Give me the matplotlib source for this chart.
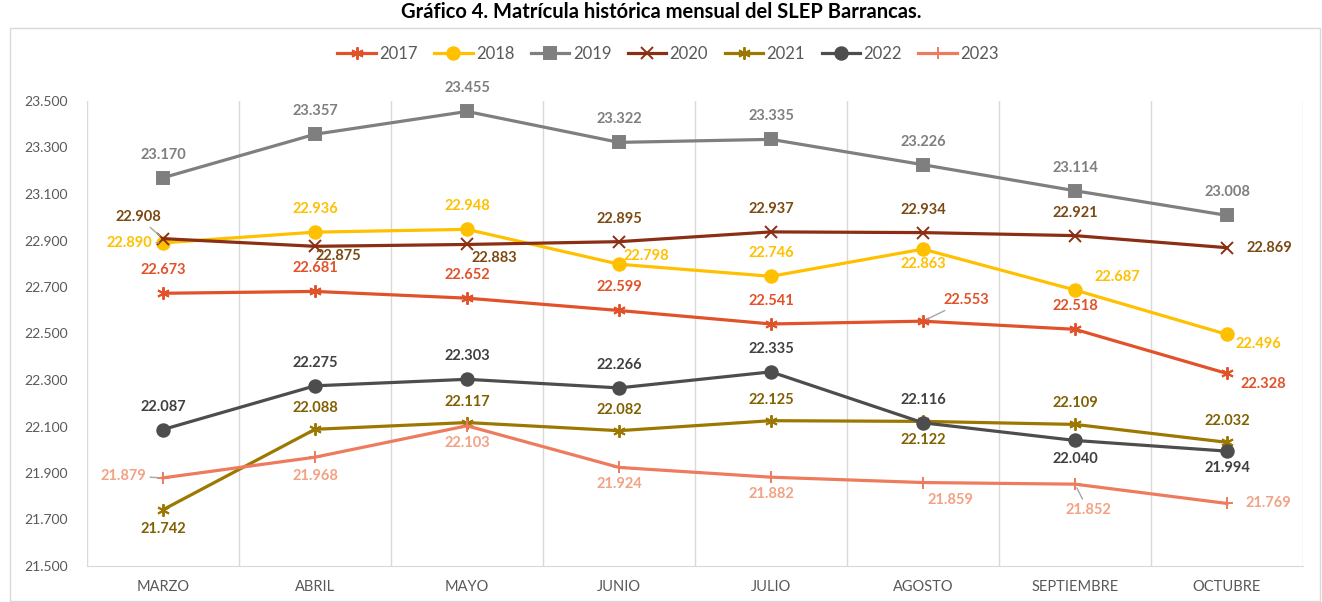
import matplotlib
matplotlib.use("Agg")
import matplotlib.pyplot as plt
from matplotlib.lines import Line2D
from matplotlib.patches import Rectangle

# ---------------------------------------------------------------------------
# DATA  (enrolment per month, one list per year)
# ---------------------------------------------------------------------------
months = ["MARZO", "ABRIL", "MAYO", "JUNIO", "JULIO", "AGOSTO",
          "SEPTIEMBRE", "OCTUBRE"]
years = ["2017", "2018", "2019", "2020", "2021", "2022", "2023"]

m2017 = [22673, 22681, 22652, 22599, 22541, 22553, 22518, 22328]
m2018 = [22890, 22936, 22948, 22798, 22746, 22863, 22687, 22496]
m2019 = [23170, 23357, 23455, 23322, 23335, 23226, 23114, 23008]
m2020 = [22908, 22875, 22883, 22895, 22937, 22934, 22921, 22869]
m2021 = [21742, 22088, 22117, 22082, 22125, 22122, 22109, 22032]
m2022 = [22087, 22275, 22303, 22266, 22335, 22116, 22040, 21994]
m2023 = [21879, 21968, 22103, 21924, 21882, 21859, 21852, 21769]
series = [m2017, m2018, m2019, m2020, m2021, m2022, m2023]

y_ticks = list(range(21500, 23501, 200))

# ---------------------------------------------------------------------------
# STYLE
# ---------------------------------------------------------------------------
plt.rcParams["font.family"] = ["Lato", "DejaVu Sans"]

ASTER = (6, 2, 0)
styles = {
    #        line colour, label colour, marker, size
    "2017": ("#E1522A", "#E1522A", ASTER, 9),
    "2018": ("#FFC000", "#FFC000", "o", 9),
    "2019": ("#7F7F7F", "#7F7F7F", "s", 8),
    "2020": ("#8B2F14", "#7B4A12", "x", 8),
    "2021": ("#9C7800", "#806000", ASTER, 9),
    "2022": ("#4D4D4D", "#404040", "o", 9),
    "2023": ("#EE7B5D", "#F3A183", "+", 9),
}

# label offsets in pixels (dx, dy) and whether a leader line is drawn
UP, DN = (0, 23), (0, -19)
offsets = {
    "2017": [UP, UP, UP, UP, UP, ((43, 21), True), UP, ((36, -11), False)],
    "2018": [((-34, 0), True), UP, UP, ((27, 8), False), UP, (0, -15),
             ((42, 13), False), ((31, -10), False)],
    "2019": [UP] * 8,
    "2020": [((-25, 22), True), ((23, -10), False), ((27, -14), False), UP,
             UP, UP, UP, ((42, 0), False)],
    "2021": [DN, (0, 21), (0, 21), (0, 21), (0, 21), DN, (0, 21), (0, 21)],
    "2022": [UP, UP, UP, UP, UP, UP, DN, (0, -17)],
    "2023": [((-40, 2), True), DN, (0, -17), (0, -17), (0, -17),
             ((27, -17), False), ((13, -26), True), ((41, 0), False)],
}


def fmt(v):
    return f"{v:,}".replace(",", ".")


# ---------------------------------------------------------------------------
# FIGURE
# ---------------------------------------------------------------------------
W, H = 1322, 602
fig = plt.figure(figsize=(W / 100, H / 100), dpi=100)
ax = fig.add_axes([87 / W, 1 - 566 / H, (1303 - 87) / W, (566 - 101) / H])

fig.patches.append(Rectangle((10 / W, 1 / H), (1320 - 10) / W, (573) / H,
                             transform=fig.transFigure, fill=False,
                             edgecolor="#d9d9d9", linewidth=1.0))

fig.text(0.5, 1 - 12 / H, "Gráfico 4. Matrícula histórica mensual del SLEP Barrancas.",
         ha="center", va="center", fontsize=14.5, fontweight="bold",
         color="black")

x = list(range(len(months)))
handles = []
for yr, vals in zip(years, series):
    lc, tc, mk, ms = styles[yr]
    ax.plot(x, vals, color=lc, linewidth=2.3, marker=mk, markersize=ms,
            markeredgewidth=1.4, markeredgecolor=lc, markerfacecolor=lc,
            zorder=3)
    handles.append(Line2D([], [], color=lc, linewidth=2.3, marker=mk,
                          markersize=ms, markeredgewidth=1.4,
                          markeredgecolor=lc, markerfacecolor=lc, label=yr))
    for i, v in enumerate(vals):
        off = offsets[yr][i]
        if isinstance(off[0], tuple):
            (dx, dy), lead = off
        else:
            (dx, dy), lead = off, False
        kw = {}
        if lead:
            kw["arrowprops"] = dict(arrowstyle="-", color="#a6a6a6", lw=1.0,
                                    shrinkA=1, shrinkB=3)
        ax.annotate(fmt(v), xy=(i, v), xytext=(dx, dy),
                    textcoords="offset pixels", ha="center", va="center",
                    fontsize=10.5, fontweight="bold", color=tc, zorder=4,
                    **kw)

# ---------------------------------------------------------------------------
# AXES
# ---------------------------------------------------------------------------
ax.set_xlim(-0.5, len(months) - 0.5)
ax.set_ylim(21500, 23500)
ax.set_yticks(y_ticks)
ax.set_yticklabels([fmt(t) for t in y_ticks])
ax.set_xticks(x)
ax.set_xticklabels(months)
ax.set_xticks([i - 0.5 for i in range(len(months) + 1)], minor=True)
ax.grid(True, which="minor", axis="x", color="#d9d9d9", linewidth=1.0)
ax.tick_params(axis="both", which="both", length=0)
ax.tick_params(axis="y", pad=14, labelsize=10, labelcolor="#595959")
ax.tick_params(axis="x", pad=10, labelsize=10.5, labelcolor="#595959")
for s in ["top", "right", "left"]:
    ax.spines[s].set_visible(False)
ax.spines["bottom"].set_color("#d9d9d9")

leg = fig.legend(handles=handles, loc="center", bbox_to_anchor=(668 / W, 1 - 54 / H),
                 ncol=7, frameon=False, fontsize=12, handlelength=2.3,
                 handletextpad=0.2, columnspacing=1.0)
for t in leg.get_texts():
    t.set_color("#595959")

fig.savefig("out.png", dpi=100)
